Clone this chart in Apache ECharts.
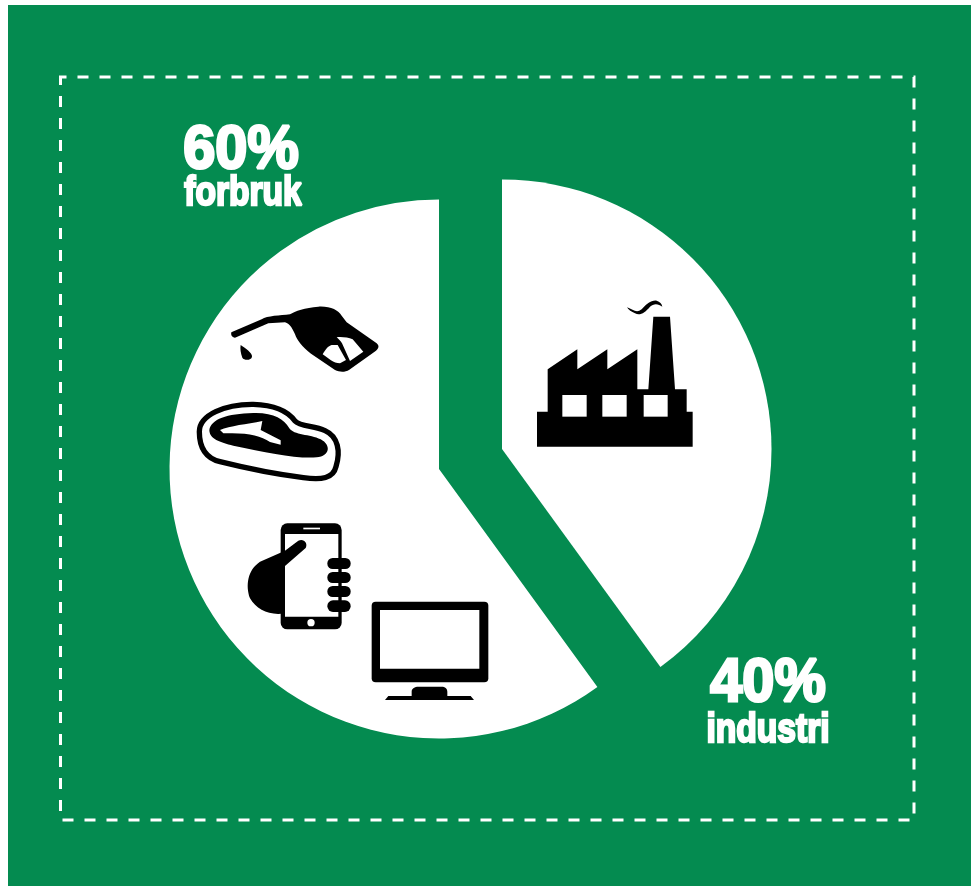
<!DOCTYPE html>
<html><head><meta charset="utf-8">
<style>html,body{margin:0;padding:0;background:#fff}#c{width:971px;height:886px}</style>
<script src="https://cdn.jsdelivr.net/npm/echarts@6/dist/echarts.min.js"></script>
</head><body><div id="c"></div>
<script>
const categories = ['industri', 'forbruk'];
const values = [40, 60];
const GREEN = '#048b50', WHITE = '#fff', BLACK = '#000';
const FONT = '"Liberation Sans", Arial, sans-serif';

function sliceSeries(idx, center) {
  return {
    type: 'pie', radius: [0, 269.5], center, startAngle: 90, clockwise: true,
    silent: true, animation: false, label: {show: false}, labelLine: {show: false},
    emphasis: {disabled: true}, padAngle: 0,
    data: categories.map((name, i) => ({
      name, value: values[i],
      itemStyle: {color: i === idx ? WHITE : 'rgba(0,0,0,0)', borderWidth: 0}
    }))
  };
}
function txt(text, x, y, size, sx, lw) {
  return {type: 'text', x, y, scaleX: sx, scaleY: 1, z: 20,
    style: {text, fill: WHITE, stroke: WHITE, lineWidth: lw, align: 'center', verticalAlign: 'middle',
      font: `bold ${size}px ${FONT}`}};
}
function icon(ox, oy, children) {
  return {type: 'group', x: ox, y: oy, scaleX: 1 / 3, scaleY: 1 / 3, z: 10, children};
}
let shapeCount = 0;
const p = (pathData, fill, extra) => {
  const type = 'iconPath' + (shapeCount++);
  echarts.graphic.registerShape(type, echarts.graphic.extendPath(pathData, {}));
  return {type, z: 10, style: Object.assign({fill: fill || BLACK}, extra || {})};
};
const r = (x, y, width, height, fill, rad) => ({type: 'rect', z: 10, shape: {x, y, width, height, r: rad || 0}, style: {fill: fill || BLACK}});

const nozzleMeat = icon(190, 295, [
  p('M124 112 L215 73 C232 62 270 62 300 58 C315 48 345 38 385 35 C420 33 445 45 455 62 L470 82 L560 145 C568 152 567 160 558 167 L478 224 C465 232 450 232 435 225 L372 182 C345 165 325 140 318 125 C310 105 300 85 285 82 L235 85 L135 128 C126 128 122 120 124 112 Z'),
  p('M440 127 C455 125 475 128 488 133 L520 170 L480 198 L456 145 C452 137 445 132 440 127 Z', WHITE),
  p('M398 178 C405 165 415 152 425 150 L443 150 L468 195 L450 205 C430 205 415 190 398 178 Z', WHITE),
  p('M152 150 C165 158 188 175 186 185 C184 197 162 197 157 188 C152 175 150 160 152 150 Z'),
  p('M28 410 C28 360 105 327 190 328 C260 330 295 350 315 378 C330 395 372 392 405 407 C445 425 452 470 438 515 C430 550 395 556 340 548 C260 538 170 520 90 500 C50 490 28 460 28 410 Z', 'none', {stroke: BLACK, lineWidth: 16}),
  p('M58 405 C63 373 110 356 190 354 C250 352 282 373 297 398 C312 422 360 416 392 433 C424 450 420 484 380 487 C320 492 230 472 130 452 C90 442 58 432 58 405 Z'),
  p('M90 405 C120 392 170 388 217 378 L212 405 L272 436 L272 449 L240 441 C210 420 170 412 100 415 Z', WHITE)
]);
const phoneTv = icon(240, 510, [
  r(122, 40, 183, 318, BLACK, 20),
  r(135, 72, 160, 248, WHITE),
  p('M190 53 L240 53 L240 58 L190 58 Z', WHITE),
  {type: 'circle', z: 10, shape: {cx: 213, cy: 338, r: 11}, style: {fill: WHITE}},
  p('M135 122 L175 92 C190 84 205 98 197 114 L135 168 L135 310 C90 318 50 300 30 265 C16 225 23 180 60 155 Z'),
  r(262, 144, 70, 33, BLACK, 16), r(262, 186, 70, 33, BLACK, 16),
  r(262, 228, 70, 33, BLACK, 16), r(262, 271, 70, 35, BLACK, 17),
  r(395, 275, 350, 242, BLACK, 12),
  r(420, 300, 298, 176, WHITE),
  p('M515 558 L515 545 C515 535 525 530 535 530 L605 530 C615 530 622 535 622 545 L622 558 L692 558 L702 570 L435 570 L445 558 Z')
]);
const factory = icon(525, 290, [
  p('M36 365 L68 365 L68 238 L157 178 L157 238 L247 178 L247 238 L337 178 L337 298 L370 298 L385 80 L435 80 L450 298 L485 298 L485 365 L503 365 L503 470 L36 470 Z'),
  r(112, 315, 73, 65, WHITE), r(232, 315, 73, 65, WHITE), r(356, 315, 72, 65, WHITE),
  p('M306 52 C325 60 335 70 350 58 C365 42 378 30 395 32 C405 35 410 40 412 50 C400 40 385 40 375 50 C360 68 345 78 330 70 C320 65 310 60 306 52 Z')
]);

const option = {
  animation: false,
  backgroundColor: '#fff',
  series: [sliceSeries(0, [502, 449]), sliceSeries(1, [439, 469])],
  graphic: {elements: [
    {type: 'rect', z: -1, shape: {x: 8, y: 5, width: 963, height: 881}, style: {fill: GREEN}},
    {type: 'rect', z: 0, shape: {x: 60.5, y: 77, width: 853.5, height: 743}, style: {fill: 'none', stroke: WHITE, lineWidth: 3, lineDash: [11, 11], lineDashOffset: 5}},
    nozzleMeat, phoneTv, factory,
    txt(values[1] + '%', 241, 151, 62, 0.93, 3),
    txt(categories[1], 243, 194, 40, 0.84, 2.4),
    txt(values[0] + '%', 768, 684, 62, 0.93, 3),
    txt(categories[0], 768, 731, 40, 0.84, 2.4)
  ]}
};
echarts.init(document.getElementById('c'), null, {renderer: 'canvas'}).setOption(option);
</script></body></html>
